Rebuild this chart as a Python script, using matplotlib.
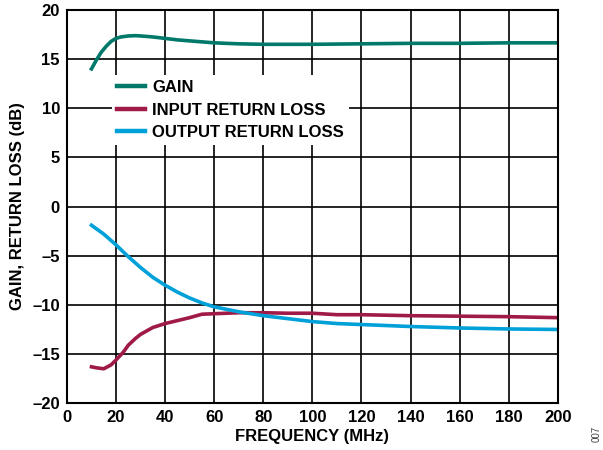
import matplotlib.pyplot as plt

plt.rcParams['font.family'] = ['Liberation Sans', 'DejaVu Sans']
plt.rcParams['font.weight'] = 'bold'

freq_gain = [10, 12, 14, 16, 18, 20, 22, 25, 28, 30, 35, 40, 45, 50, 55, 60, 70, 80, 90,
             100, 120, 140, 160, 180, 200]
gain = [14.0, 14.9, 15.7, 16.3, 16.8, 17.1, 17.25, 17.35, 17.38, 17.35, 17.25, 17.1, 16.95,
        16.85, 16.75, 16.65, 16.55, 16.5, 16.5, 16.5, 16.55, 16.6, 16.6, 16.65, 16.65]

freq_in = [10, 12, 15, 18, 20, 23, 25, 28, 30, 35, 40, 45, 50, 55, 60, 70, 80, 90, 100, 110,
           120, 140, 160, 180, 200]
input_rl = [-16.3, -16.4, -16.5, -16.1, -15.6, -14.8, -14.1, -13.4, -13.0, -12.3, -11.9,
            -11.6, -11.3, -10.95, -10.9, -10.8, -10.8, -10.85, -10.85, -11.0, -11.0, -11.1,
            -11.15, -11.2, -11.3]

freq_out = [10, 15, 20, 25, 30, 35, 40, 45, 50, 55, 60, 70, 80, 90, 100, 110, 120, 140,
            160, 180, 200]
output_rl = [-1.9, -2.8, -3.9, -5.1, -6.2, -7.2, -8.0, -8.7, -9.3, -9.8, -10.2, -10.7,
             -11.1, -11.4, -11.7, -11.9, -12.0, -12.2, -12.35, -12.45, -12.5]

fig = plt.figure(figsize=(6.03, 4.5), dpi=100)
ax = fig.add_axes([0.111, 0.104, 0.814, 0.874])

ax.plot(freq_gain, gain, color='#00786A', lw=2.6, label='GAIN')
ax.plot(freq_in, input_rl, color='#A01A48', lw=2.6, label='INPUT RETURN LOSS')
ax.plot(freq_out, output_rl, color='#00A0D8', lw=2.6, label='OUTPUT RETURN LOSS')

ax.set_xlim(0, 200)
ax.set_ylim(-20, 20)
ax.set_xticks(range(0, 201, 20))
ax.set_yticks(range(-20, 21, 5))
ax.set_yticklabels([str(v).replace('-', '\u2013') for v in range(-20, 21, 5)])
ax.tick_params(length=0, labelsize=12, pad=5)
ax.grid(True, color='black', lw=1.2)
ax.set_axisbelow(True)
for s in ax.spines.values():
    s.set_linewidth(1.5)

ax.set_xlabel('FREQUENCY (MHz)', fontsize=12, fontweight='bold', labelpad=3)
ax.set_ylabel('GAIN, RETURN LOSS (dB)', fontsize=12, fontweight='bold', labelpad=5)

leg = ax.legend(loc='upper left', bbox_to_anchor=(0.075, 0.855), frameon=True, fontsize=12,
                handlelength=1.7, handletextpad=0.4, labelspacing=0.45, borderpad=0.3,
                fancybox=False)
leg.get_frame().set_edgecolor('none')
leg.get_frame().set_facecolor('white')
leg.get_frame().set_alpha(1)
for line in leg.get_lines():
    line.set_linewidth(3.2)

fig.text(0.99, 0.035, '007', rotation=90, fontsize=7, fontweight='normal', color='#444444',
         ha='center', va='center')

fig.savefig('out.png', dpi=100)
